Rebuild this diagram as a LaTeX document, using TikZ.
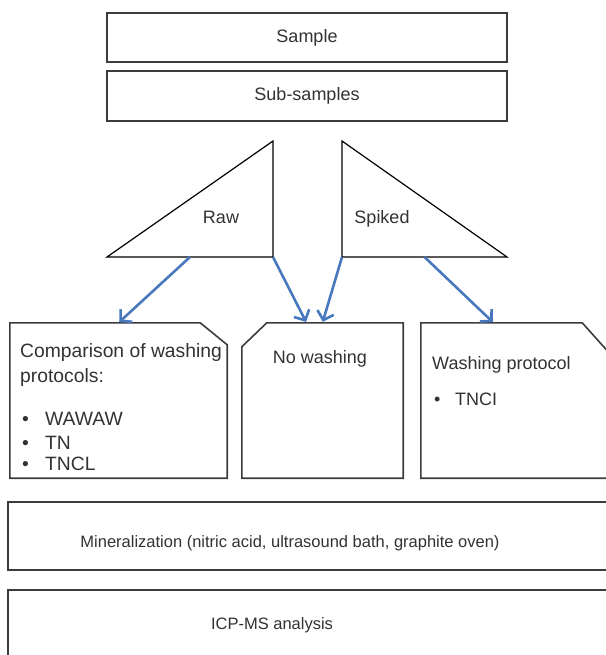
\documentclass[tikz,border=0pt]{standalone}
\usepackage{fontspec}
\setmainfont{Liberation Sans}
\usetikzlibrary{arrows.meta}
\definecolor{flowblue}{RGB}{72,120,190}
\definecolor{boxgray}{RGB}{60,60,60}
\definecolor{txtgray}{RGB}{50,50,50}
\tikzset{
  box/.style={draw=boxgray, line width=1.6pt},
  tri/.style={draw=black, line width=1.2pt, line join=miter},
  flow/.style={draw=flowblue, line width=2.6pt, shorten >=1pt,
    -{Straight Barb[length=8pt,width=17pt]}},
  lbl/.style={inner sep=0pt, text=txtgray, font=\fontsize{18}{21}\selectfont},
  biglbl/.style={inner sep=0pt, text=txtgray, font=\fontsize{19.3}{24}\selectfont},
  smalllbl/.style={inner sep=0pt, text=txtgray, font=\fontsize{16.5}{20}\selectfont}
}
\begin{document}
\begin{tikzpicture}[x=1pt,y=-1pt]
  \useasboundingbox (0,0) rectangle (605,655);
  % top boxes
  \node[box, lbl, minimum width=400pt, minimum height=49pt] (sample) at (307,37.5) {Sample};
  \node[box, lbl, minimum width=400pt, minimum height=50pt] (subs) at (307,96) {Sub-samples};
  % triangles
  \coordinate (rawL) at (107,257);
  \coordinate (rawR) at (273,257);
  \coordinate (rawTop) at (273,141);
  \coordinate (rawMid) at (190,257);
  \coordinate (spkL) at (342,257);
  \coordinate (spkR) at (507,257);
  \coordinate (spkTop) at (342,141);
  \coordinate (spkMid) at (424.5,257);
  \draw[tri] (rawL) -- (rawR) -- (rawTop) -- cycle;
  \draw[tri] (spkL) -- (spkR) -- (spkTop) -- cycle;
  \node[lbl, anchor=base] (raw) at (221,223) {Raw};
  \node[lbl, anchor=base] (spiked) at (382,223) {Spiked};
  % treatment boxes
  \node[minimum width=217pt, minimum height=155pt] (wash) at (118.5,400.5) {};
  \node[minimum width=161pt, minimum height=155pt] (none) at (322.5,400.5) {};
  \node[minimum width=187pt, minimum height=155pt] (prot) at (514.5,400.5) {};
  \draw[box] (wash.north west) -- ([xshift=-27pt]wash.north east)
    -- ([yshift=-22pt]wash.north east) -- (wash.south east)
    -- (wash.south west) -- cycle;
  \draw[box] ([yshift=-24pt]none.north west) -- ([xshift=25pt]none.north west)
    -- (none.north east) -- (none.south east)
    -- (none.south west) -- cycle;
  \draw[box] (prot.north west) -- ([xshift=-26pt]prot.north east)
    -- ([yshift=-29pt]prot.north east) -- (prot.south east)
    -- (prot.south west) -- cycle;
  \node[biglbl, anchor=base west] (cmp1) at (20,357) {Comparison of washing};
  \node[biglbl, anchor=base west] (cmp2) at (20,382) {protocols:};
  \node[biglbl, anchor=base west] (b1) at (22,425) {•};
  \node[biglbl, anchor=base west] (b2) at (22,449) {•};
  \node[biglbl, anchor=base west] (b3) at (22,470) {•};
  \node[biglbl, anchor=base west] (wawaw) at (45,425) {WAWAW};
  \node[biglbl, anchor=base west] (tn) at (45,449) {TN};
  \node[biglbl, anchor=base west] (tncl) at (45,470) {TNCL};
  \node[lbl, anchor=base] (nowash) at (320,363) {No washing};
  \node[lbl, anchor=base west] (wprot) at (432,369) {Washing protocol};
  \node[lbl, anchor=base west] (b4) at (434,405) {•};
  \node[lbl, anchor=base west] (tnci) at (455,405) {TNCI};
  % bottom boxes
  \node[box, minimum width=612pt, minimum height=68pt] (mineral) at (314,536) {};
  \node[smalllbl] (mineraltxt) at (290,543)
    {Mineralization (nitric acid, ultrasound bath, graphite oven)};
  \node[box, minimum width=612pt, minimum height=90pt] (icp) at (314,635) {};
  \node[smalllbl] (icptxt) at (272,625) {ICP-MS analysis};
  % arrows
  \begin{scope}[flow]
    \draw (rawMid) to (wash.north);
    \draw (rawR) to ([xshift=-16pt]none.north);
    \draw (spkL) to (none.north);
    \draw (spkMid) to ([xshift=-21pt]prot.north);
  \end{scope}
\end{tikzpicture}
\end{document}
